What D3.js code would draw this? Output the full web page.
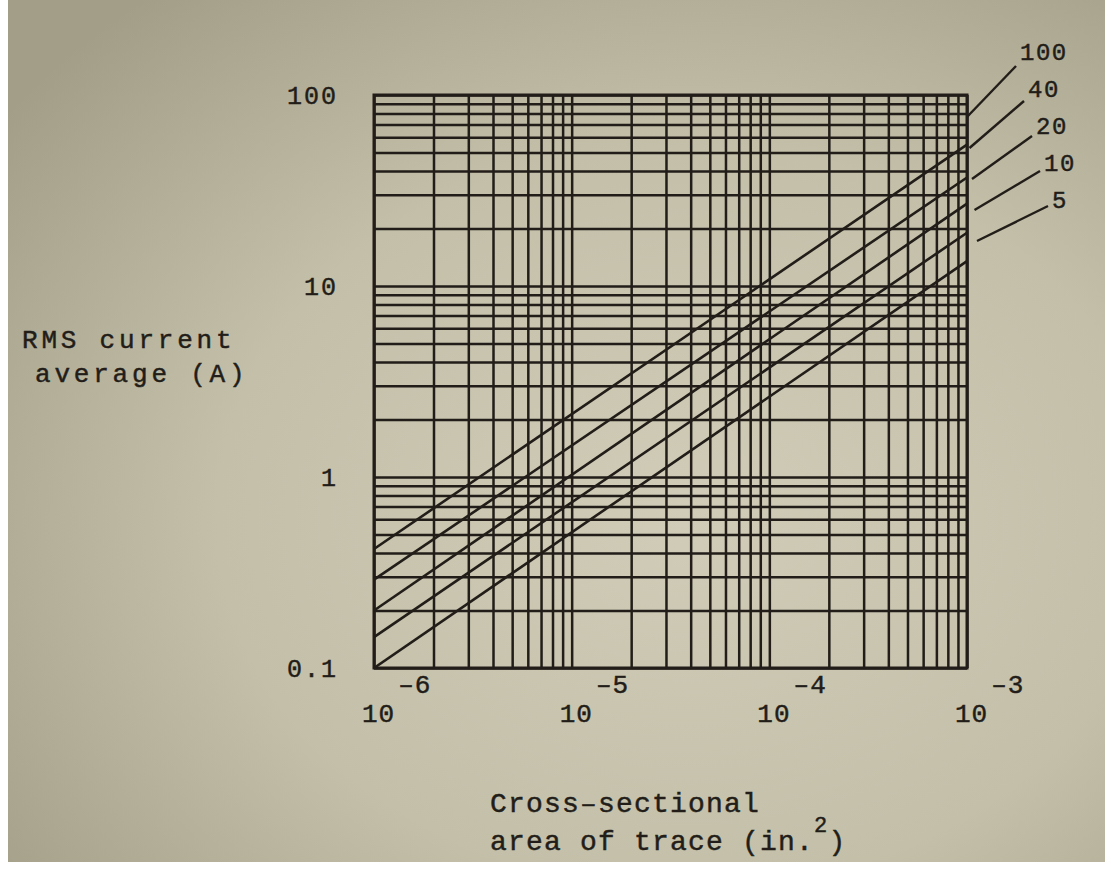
<!DOCTYPE html>
<html>
<head>
<meta charset="utf-8">
<script src="https://cdn.jsdelivr.net/npm/d3@7"></script>
<style>
  body { margin: 0; background: #ffffff; }
  svg { display: block; }
  text { stroke: #221d18; stroke-width: 0.45px; }
</style>
</head>
<body>
<div id="chart"></div>
<script>
// Trace current vs cross-sectional area (log-log)
const areaDomain = [1e-6, 1e-3];          // in.^2
const currentDomain = [0.1, 100];          // A
const xTickExponents = [-6, -5, -4, -3];
const yTickLabels = [0.1, 1, 10, 100];
const tempRise = ["100", "40", "20", "10", "5"];
const currentAtMinArea = [0.42, 0.29, 0.2, 0.145, 0.1];   // read at 10^-6
const currentAtMaxArea = [55, 37, 27, 19, 13.5];          // read at 10^-3

const ink = "#221d18";
const fontFam = "'Liberation Mono', 'DejaVu Sans Mono', monospace";

const W = 1111, H = 870;
const margin = { top: 95, right: 144, bottom: 202, left: 374 };
const width = W - margin.left - margin.right;
const height = H - margin.top - margin.bottom;

const svg = d3.select("#chart")
  .append("svg")
    .attr("width", W)
    .attr("height", H);

// paper background
const defs = svg.append("defs");
const grad = defs.append("radialGradient")
    .attr("id", "paper")
    .attr("cx", "0.62").attr("cy", "0.6").attr("r", "0.78");
grad.append("stop").attr("offset", "0%").attr("stop-color", "#d0ccb7");
grad.append("stop").attr("offset", "55%").attr("stop-color", "#c3bfa9");
grad.append("stop").attr("offset", "100%").attr("stop-color", "#a29e88");

svg.append("rect")
    .attr("x", 8).attr("y", 0)
    .attr("width", W - 14).attr("height", H - 8)
    .attr("fill", "url(#paper)");

const g = svg.append("g")
    .attr("transform", `translate(${margin.left},${margin.top})`);

// scales
const x = d3.scaleLog().domain(areaDomain).range([0, width]);
const y = d3.scaleLog().domain(currentDomain).range([height, 0]);

// vertical grid
g.append("g")
    .attr("class", "x-grid")
    .attr("transform", `translate(0,${height})`)
    .call(d3.axisBottom(x)
      .tickValues(x.ticks())
      .tickSize(-height)
      .tickFormat(""))
    .call(s => s.select(".domain").remove())
    .selectAll(".tick line")
    .attr("stroke", ink)
    .attr("stroke-width", 2.5);

// horizontal grid
g.append("g")
    .attr("class", "y-grid")
    .call(d3.axisLeft(y)
      .tickValues(y.ticks())
      .tickSize(-width)
      .tickFormat(""))
    .call(s => s.select(".domain").remove())
    .selectAll(".tick line")
    .attr("stroke", ink)
    .attr("stroke-width", 2.5);

// frame
g.append("rect")
    .attr("width", width)
    .attr("height", height)
    .attr("fill", "none")
    .attr("stroke", ink)
    .attr("stroke-width", 3);

// temperature rise lines
const line = d3.line()
    .x(d => x(d.area))
    .y(d => y(d.current));

const series = tempRise.map((t, i) => ({
  label: t,
  values: [
    { area: areaDomain[0], current: currentAtMinArea[i] },
    { area: areaDomain[1], current: currentAtMaxArea[i] }
  ]
}));

g.append("defs").append("clipPath")
    .attr("id", "plot-clip")
  .append("rect")
    .attr("width", width)
    .attr("height", height);

g.append("g")
    .attr("clip-path", "url(#plot-clip)")
  .selectAll("path")
  .data(series)
  .enter().append("path")
    .attr("fill", "none")
    .attr("stroke", ink)
    .attr("stroke-width", 2.6)
    .attr("d", d => line(d.values));

// y tick labels
g.append("g")
    .attr("class", "y-axis")
    .call(d3.axisLeft(y)
      .tickValues(yTickLabels)
      .tickSize(0)
      .tickPadding(36)
      .tickFormat(d => d < 1 ? "0.1" : d3.format("d")(d)))
    .call(s => s.select(".domain").remove())
    .selectAll("text")
    .attr("fill", ink)
    .style("font-family", fontFam)
    .style("font-size", "25px")
    .style("letter-spacing", "2px");

// x tick labels: 10 with superscript exponent
const xl = g.append("g")
    .attr("class", "x-axis")
    .selectAll("text")
    .data(xTickExponents)
    .enter().append("text")
    .attr("x", d => x(Math.pow(10, d)) - 12)
    .attr("y", height + 54)
    .attr("fill", ink)
    .style("font-family", fontFam)
    .style("font-size", "26px")
    .style("letter-spacing", "1px");
xl.append("tspan").text("10");
xl.append("tspan")
    .attr("dx", 3)
    .attr("dy", -29)
    .text(d => "\u2013" + Math.abs(d));

// y title
const yTitle = svg.append("g")
    .style("font-family", fontFam)
    .style("font-size", "26px")
    .style("letter-spacing", "3.8px")
    .attr("fill", ink);
yTitle.append("text").attr("x", 22).attr("y", 348).text("RMS current");
yTitle.append("text").attr("x", 35).attr("y", 382).text("average (A)");

// x title
const xTitle = svg.append("g")
    .style("font-family", fontFam)
    .style("font-size", "28px")
    .style("letter-spacing", "1.2px")
    .attr("fill", ink);
xTitle.append("text").attr("x", 490).attr("y", 812).text("Cross\u2013sectional");
const t2 = xTitle.append("text").attr("x", 490).attr("y", 850);
t2.append("tspan").text("area of trace (in.");
t2.append("tspan").attr("dy", -18).style("font-size", "22px").text("2");
t2.append("tspan").attr("dy", 18).text(")");

// legend (temperature rise labels)
const legend = svg.append("g")
    .selectAll("g")
    .data(tempRise)
    .enter().append("g");

legend.append("line")
    .attr("x1", (d, i) => 967 + i * 2.5)
    .attr("y1", (d, i) => 117 + i * 31)
    .attr("x2", (d, i) => 1016 + i * 8)
    .attr("y2", (d, i) => 66 + i * 35)
    .attr("stroke", ink)
    .attr("stroke-width", 2.4);

legend.append("text")
    .attr("x", (d, i) => 1020 + i * 8)
    .attr("y", (d, i) => 60 + i * 37)
    .attr("fill", ink)
    .style("font-family", fontFam)
    .style("font-size", "24px")
    .style("letter-spacing", "1.5px")
    .text(d => d);
</script>
</body>
</html>
